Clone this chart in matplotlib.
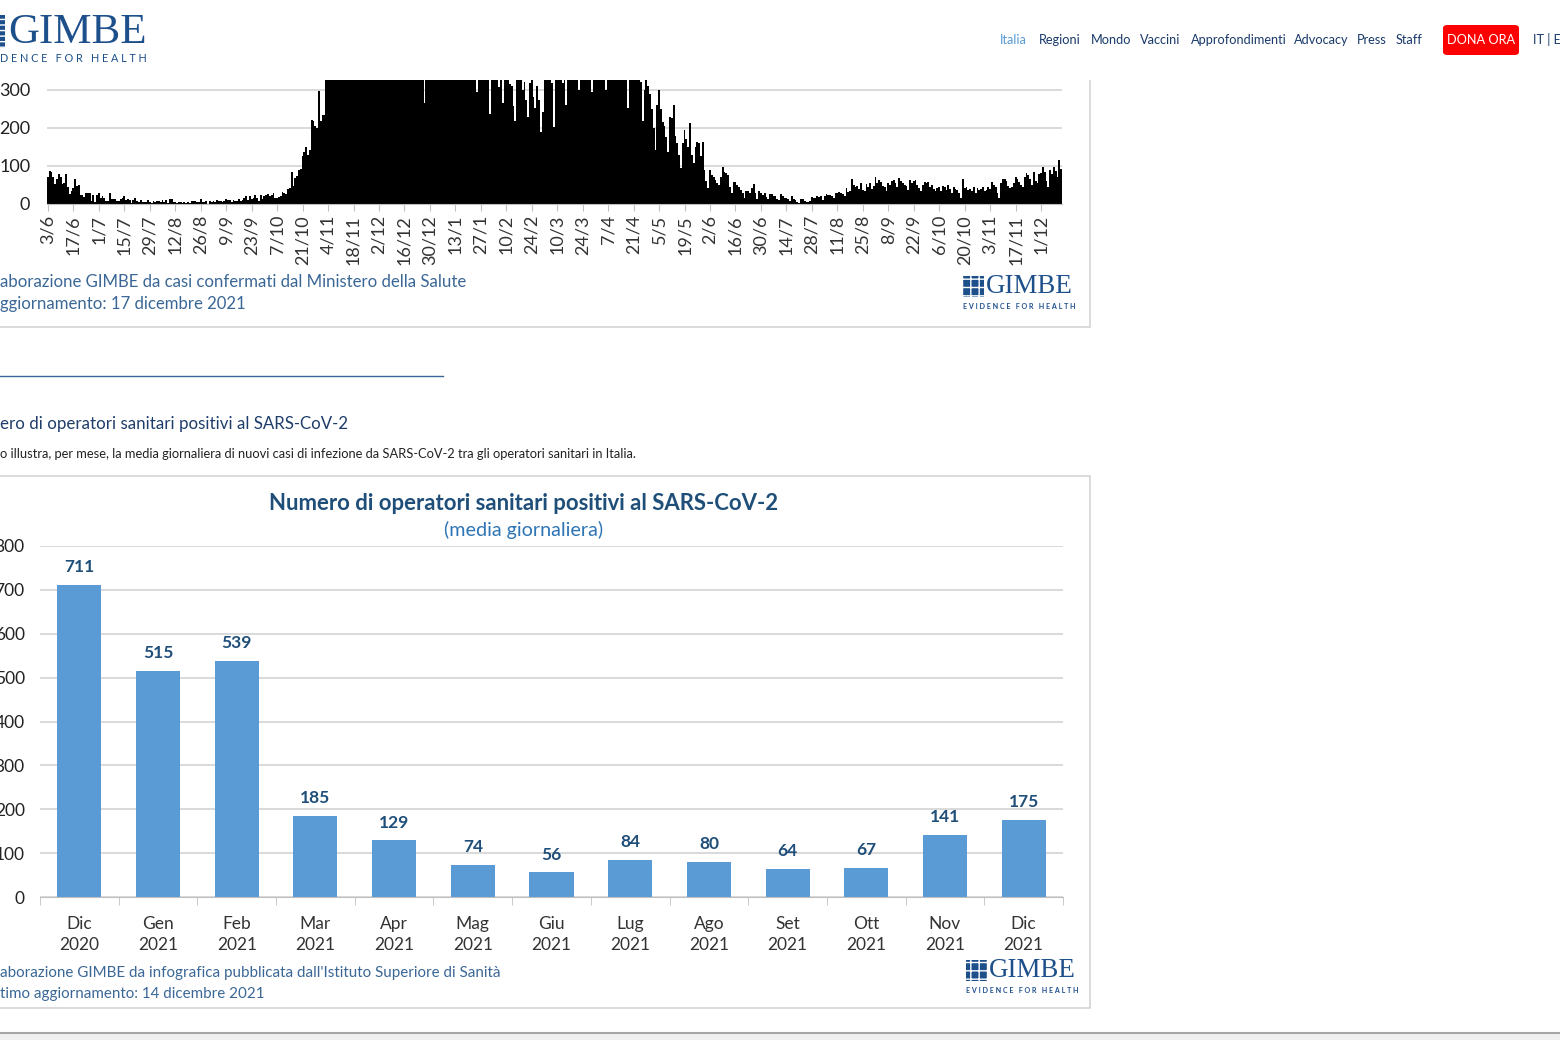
import matplotlib.pyplot as plt
from matplotlib.patches import Rectangle, FancyBboxPatch
import numpy as np

# decessi giornalieri (grafico in alto, tagliato dalla barra del sito)
giu20 = [71, 88, 85, 72, 53, 65, 79, 71, 53, 56, 78, 44, 26, 34, 43, 66, 47, 49, 24, 23, 18, 30, 30, 30, 8, 24, 6, 23]
lug20 = [30, 15, 21, 15, 7, 8, 30, 12, 12, 12, 7, 9, 13, 17, 20, 11, 13, 11, 3, 11, 15, 9, 5, 10, 5, 5, 5, 11, 6, 3, 9]
ago20 = [5, 7, 7, 5, 10, 6, 10, 3, 13, 12, 4, 6, 2, 6, 6, 3, 5, 2, 4, 3, 9, 7, 7, 4, 5, 13, 4, 5, 9, 1, 7]
set20 = [6, 8, 6, 10, 7, 9, 6, 8, 14, 10, 10, 6, 11, 9, 9, 13, 9, 11, 15, 20, 10, 20, 14, 17, 24, 17, 7, 24, 14, 20]
ott20 = [23, 27, 22, 24, 28, 16, 17, 19, 22, 31, 28, 26, 39, 41, 83, 47, 69, 73, 89, 91, 127, 136, 151, 128, 141, 221, 217, 205, 199, 297, 217]
nov20 = [233, 233, 353, 445, 446, 428, 331, 425, 356, 580, 623, 636, 550, 546, 504, 753, 731, 653, 699, 692, 546, 562, 630, 853, 722, 822, 827, 541, 686, 672]
dic20 = [785, 993, 814, 761, 662, 564, 528, 634, 499, 887, 761, 649, 484, 491, 846, 680, 683, 674, 553, 352, 415, 628, 553, 459, 350, 340, 265, 659, 575, 555, 462]
gen21 = [462, 364, 347, 348, 649, 444, 414, 483, 361, 347, 463, 616, 507, 477, 474, 475, 377, 603, 524, 521, 517, 472, 492, 420, 295, 541, 467, 492, 421, 399, 337]
feb21 = [237, 499, 421, 389, 385, 307, 335, 266, 336, 397, 391, 316, 311, 258, 218, 336, 347, 353, 299, 320, 274, 229, 318, 347, 280, 253, 310, 274]
mar21 = [190, 242, 340, 339, 347, 330, 318, 203, 376, 332, 373, 380, 317, 330, 260, 502, 431, 423, 386, 401, 330, 300, 551, 460, 460, 380, 340, 330, 295, 529, 467]
apr21 = [501, 376, 344, 326, 340, 300, 627, 487, 718, 344, 331, 330, 476, 469, 429, 380, 340, 252, 330, 390, 342, 360, 344, 330, 320, 217, 301, 330, 310, 290]
mag21 = [250, 200, 142, 260, 300, 250, 215, 205, 175, 137, 230, 225, 260, 180, 160, 130, 95, 160, 195, 170, 150, 213, 130, 108, 150, 163, 160, 125, 163, 90, 60]
giu21 = [42, 90, 75, 70, 63, 55, 50, 70, 97, 85, 81, 75, 45, 29, 58, 58, 50, 45, 37, 28, 16, 35, 35, 30, 42, 52, 28, 14, 35, 28]
lug21 = [24, 30, 18, 13, 25, 25, 22, 20, 12, 10, 25, 22, 15, 16, 12, 7, 20, 14, 10, 5, 3, 12, 14, 8, 6, 5, 8, 18, 15, 17, 20]
ago21 = [18, 20, 10, 22, 27, 23, 24, 22, 15, 30, 29, 31, 29, 25, 20, 42, 31, 35, 66, 50, 45, 48, 40, 55, 38, 35, 52, 45, 55, 40, 48]
set21 = [70, 55, 62, 58, 48, 45, 35, 55, 50, 60, 62, 55, 45, 69, 60, 55, 50, 48, 38, 63, 55, 60, 63, 50, 42, 35, 50, 58, 55, 58]
ott21 = [45, 50, 40, 35, 42, 44, 33, 48, 45, 38, 50, 40, 30, 46, 40, 36, 28, 15, 65, 42, 45, 38, 40, 33, 45, 30, 42, 36, 40, 44, 35]
nov21 = [38, 45, 40, 58, 50, 45, 28, 17, 55, 66, 66, 60, 48, 42, 45, 55, 70, 65, 58, 50, 45, 72, 81, 75, 65, 50, 85, 60, 55, 80]
dic21 = [82, 97, 85, 60, 45, 90, 80, 97, 88, 70, 116, 92]

giornaliero = (giu20 + lug20 + ago20 + set20 + ott20 + nov20 + dic20 + gen21 + feb21 + mar21
               + apr21 + mag21 + giu21 + lug21 + ago21 + set21 + ott21 + nov21 + dic21)

etichette_date = ["3/6", "17/6", "1/7", "15/7", "29/7", "12/8", "26/8", "9/9", "23/9", "7/10",
                  "21/10", "4/11", "18/11", "2/12", "16/12", "30/12", "13/1", "27/1", "10/2", "24/2",
                  "10/3", "24/3", "7/4", "21/4", "5/5", "19/5", "2/6", "16/6", "30/6", "14/7",
                  "28/7", "11/8", "25/8", "8/9", "22/9", "6/10", "20/10", "3/11", "17/11", "1/12"]

# operatori sanitari positivi (media giornaliera)
mesi = ["Dic\n2020", "Gen\n2021", "Feb\n2021", "Mar\n2021", "Apr\n2021", "Mag\n2021", "Giu\n2021",
        "Lug\n2021", "Ago\n2021", "Set\n2021", "Ott\n2021", "Nov\n2021", "Dic\n2021"]
operatori = [711, 515, 539, 185, 129, 74, 56, 84, 80, 64, 67, 141, 175]

W, H = 1560, 1040
BLU_SCURO = "#1f4e79"
BLU_FONTE = "#3a6796"
BLU_LOGO = "#1d4f8b"
GRIGIO_TXT = "#333333"

plt.rcParams['font.family'] = ['Lato', 'DejaVu Sans']

fig = plt.figure(figsize=(15.6, 10.4), dpi=100)


def box(x0, y0, x1, y1):
    return [x0 / W, 1 - y1 / H, (x1 - x0) / W, (y1 - y0) / H]


def txt(x, y, s, **kw):
    kw.setdefault("va", "center")
    return fig.text(x / W, 1 - y / H, s, **kw)


def rettangolo(x0, y0, x1, y1, **kw):
    r = Rectangle((x0 / W, 1 - y1 / H), (x1 - x0) / W, (y1 - y0) / H,
                  transform=fig.transFigure, **kw)
    fig.add_artist(r)
    return r


def logo(x, y, size):
    # piccolo logo GIMBE: quadratino a griglia + scritta
    s = size
    rettangolo(x, y - s * 0.68, x + s * 0.78, y + s * 0.1, facecolor=BLU_LOGO,
               edgecolor="white", hatch="++", linewidth=0)
    txt(x + s * 0.84, y - s * 0.27, "GIMBE", family="Liberation Serif", fontsize=size * 0.72,
        color=BLU_LOGO, ha="left")
    txt(x, y + s * 0.45, "E V I D E N C E   F O R   H E A L T H", fontsize=size * 0.19,
        color=BLU_LOGO, ha="left", weight="bold")


# pannelli dei grafici (dietro gli assi)
rettangolo(-5, 60, 1090, 327, facecolor="white", edgecolor="#d4d4d4", linewidth=1.2, zorder=-5)
rettangolo(-5, 476, 1090, 1008, facecolor="white", edgecolor="#d4d4d4", linewidth=1.2, zorder=-5)

# grafico in alto
ax1 = fig.add_axes(box(47, 80, 1062, 204))
ax1.bar(range(len(giornaliero)), giornaliero, width=1.0, color="black", linewidth=0)
ax1.set_xlim(-0.5, len(giornaliero) - 0.5)
ax1.set_ylim(0, 326)
ax1.set_yticks([0, 100, 200, 300])
ax1.set_xticks(range(0, 14 * len(etichette_date), 14))
ax1.set_xticklabels(etichette_date, rotation=90, fontsize=13, color=GRIGIO_TXT)
ax1.tick_params(axis="y", length=0, pad=12, labelsize=13, labelcolor="#222222")
ax1.tick_params(axis="x", length=5, color="#bfbfbf", pad=3)
ax1.grid(axis="y", color="#d9d9d9", linewidth=1.4)
ax1.set_axisbelow(True)
for sp in ["top", "right", "left"]:
    ax1.spines[sp].set_visible(False)
ax1.spines["bottom"].set_color("#bfbfbf")
ax1.patch.set_alpha(0)

txt(0, 282, "aborazione GIMBE da casi confermati dal Ministero della Salute",
    fontsize=12.1, color=BLU_FONTE, ha="left")
txt(0, 304, "ggiornamento: 17 dicembre 2021", fontsize=12.1, color=BLU_FONTE, ha="left")
logo(963, 294, 27)

# separatore e intestazione della sezione
fig.add_artist(plt.Line2D([0, 443 / W], [1 - 376 / H] * 2, transform=fig.transFigure,
                          color="#3a6796", linewidth=1))
txt(0, 424, "ero di operatori sanitari positivi al SARS-CoV-2", fontsize=12.2,
    color="#1f3d6b", ha="left")
txt(0, 454, "o illustra, per mese, la media giornaliera di nuovi casi di infezione da SARS-CoV-2 "
    "tra gli operatori sanitari in Italia.", fontsize=9.3, color="#222222", ha="left")

# grafico a barre
txt(524, 503, "Numero di operatori sanitari positivi al SARS-CoV-2", fontsize=15.9,
    weight="bold", color=BLU_SCURO, ha="center")
txt(524, 530, "(media giornaliera)", fontsize=14.2, color="#2e75b6", ha="center")

ax2 = fig.add_axes(box(40, 546, 1063, 897))
pos = np.arange(len(operatori))
barre = ax2.bar(pos, operatori, width=0.56, color="#5b9bd5", linewidth=0)
for b, v in zip(barre, operatori):
    ax2.annotate(str(v), (b.get_x() + b.get_width() / 2, v), xytext=(0, 7),
                 textcoords="offset points", ha="center", va="bottom",
                 fontsize=12.5, weight="bold", color=BLU_SCURO)
ax2.set_xlim(-0.5, len(operatori) - 0.5)
ax2.set_ylim(0, 800)
ax2.set_yticks(range(0, 801, 100))
ax2.set_xticks(pos)
ax2.set_xticklabels(mesi, fontsize=12.5, color=GRIGIO_TXT, linespacing=1.35)
ax2.set_xticks(np.arange(-0.5, len(operatori), 1), minor=True)
ax2.tick_params(axis="x", which="major", length=0, pad=14)
ax2.tick_params(axis="x", which="minor", length=6, color="#bfbfbf")
ax2.tick_params(axis="y", length=0, pad=11, labelsize=12.5, labelcolor="#222222")
ax2.grid(axis="y", color="#d9d9d9", linewidth=1.4)
ax2.set_axisbelow(True)
for sp in ["top", "right", "left"]:
    ax2.spines[sp].set_visible(False)
ax2.spines["bottom"].set_color("#bfbfbf")
ax2.patch.set_alpha(0)

txt(0, 973, "aborazione GIMBE da infografica pubblicata dall'Istituto Superiore di Sanità",
    fontsize=10.9, color=BLU_FONTE, ha="left")
txt(0, 994, "timo aggiornamento: 14 dicembre 2021", fontsize=10.9, color=BLU_FONTE, ha="left")
logo(966, 978, 27)

# barra del sito in alto
rettangolo(0, 0, W, 80, facecolor="white", edgecolor="none", zorder=5)
rettangolo(-2, 15, 5, 48, facecolor=BLU_LOGO, edgecolor="white", hatch="---",
           linewidth=0, zorder=6)
txt(8, 33, "GIMBE", family="Liberation Serif", fontsize=31, color=BLU_LOGO,
    ha="left", zorder=6)
txt(0, 59, "D E N C E   F O R   H E A L T H", fontsize=7.8, color=BLU_LOGO, ha="left", zorder=6)

voci = ["Italia", "Regioni", "Mondo", "Vaccini", "Approfondimenti", "Advocacy", "Press", "Staff"]
x_voci = [1000, 1039, 1091, 1140, 1191, 1294, 1357, 1396]
for v, xv in zip(voci, x_voci):
    txt(xv, 40, v, fontsize=9.2, ha="left", zorder=6,
        color="#5b9bd5" if v == "Italia" else "#1a3a6b")
fig.add_artist(FancyBboxPatch((1443 / W, 1 - 55 / H), 76 / W, 30 / H,
                              boxstyle="round,pad=0,rounding_size=0.003",
                              transform=fig.transFigure, facecolor="#ff0000",
                              edgecolor="none", zorder=6))
txt(1481, 40, "DONA ORA", fontsize=9.2, color="white", ha="center", zorder=7)
txt(1533, 40, "IT | E", fontsize=9.2, color="#1a3a6b", ha="left", zorder=6)

# fondo pagina
fig.add_artist(plt.Line2D([0, 1], [1 - 1033 / H] * 2, transform=fig.transFigure,
                          color="#a6a6a6", linewidth=1.5))
rettangolo(0, 1034, W, 1041, facecolor="#f0f0f0", edgecolor="none")

fig.savefig("out.png", dpi=100)
